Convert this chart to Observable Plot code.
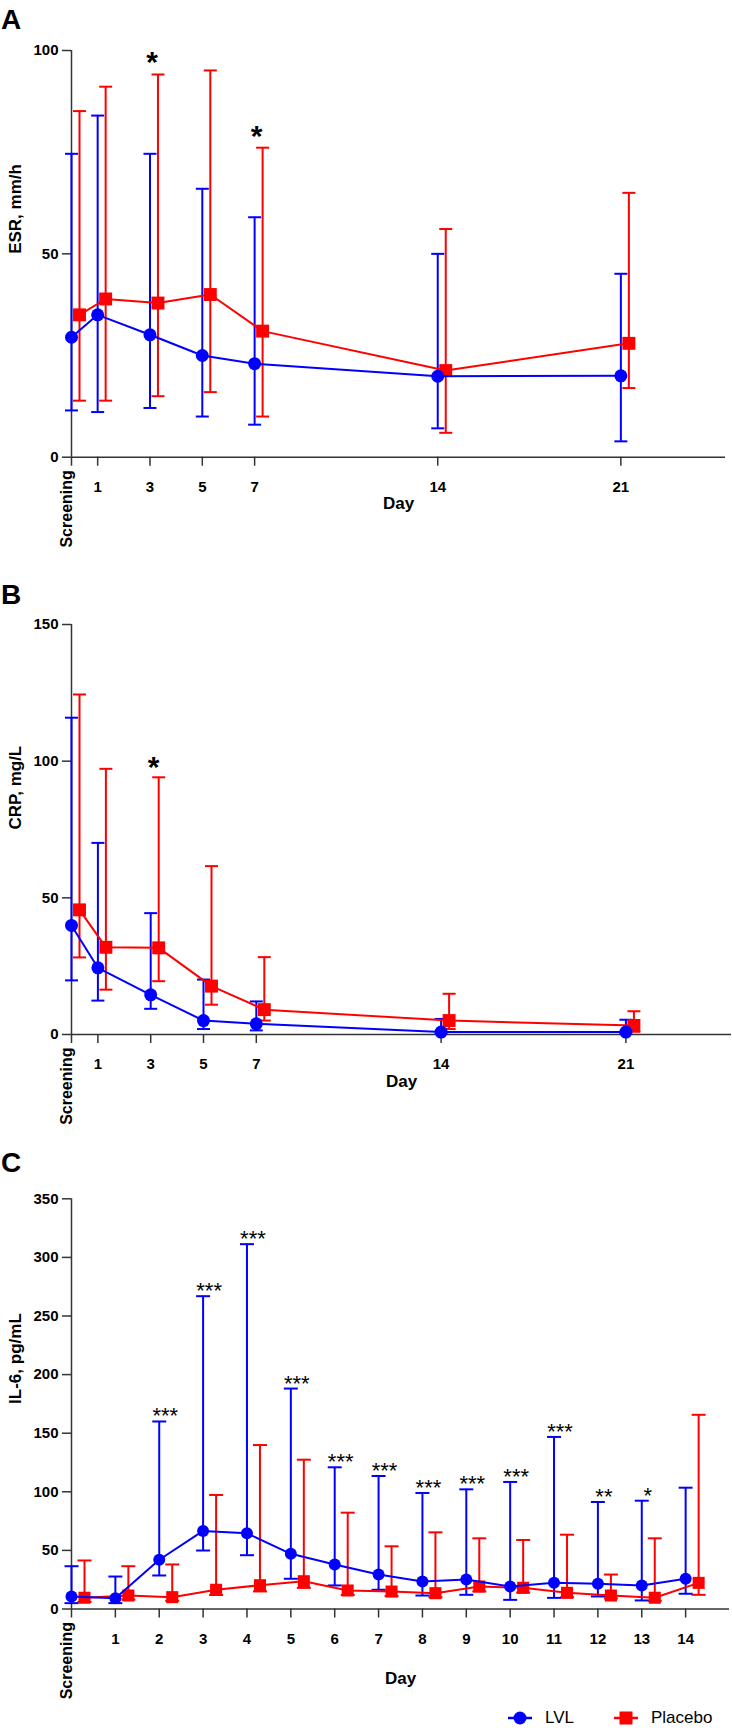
<!DOCTYPE html>
<html>
<head>
<meta charset="utf-8">
<script src="https://cdn.jsdelivr.net/npm/d3@7"></script>
<script src="https://cdn.jsdelivr.net/npm/@observablehq/plot@0.6"></script>
<style>
  html, body { margin: 0; padding: 0; background: #fff; }
  body { font-family: "Liberation Sans", Arial, sans-serif; }
  #root { position: relative; width: 732px; height: 1730px; overflow: hidden; }
  .panel { position: absolute; left: 0; }
  .letter { position: absolute; left: 1px; font-size: 28px; font-weight: bold; line-height: 1; color: #000; }
  .legend { position: absolute; top: 1706px; left: 0; width: 732px; height: 24px; font-size: 17px; color: #000; }
  .legend .item { position: absolute; top: 0; display: flex; align-items: center; height: 24px; }
  .legend svg { display: block; }
  .legend span { margin-left: 13px; }
</style>
</head>
<body>
<div id="root"></div>
<script>
// ---------- Data ----------
const groups = ["LVL", "Placebo"];

// Panel A: ESR
const daysAB = [0, 1, 3, 5, 7, 14, 21];
const dayLabelsAB = ["Screening", "1", "3", "5", "7", "14", "21"];
const esrLVL = [29.5, 35.0, 30.1, 25.0, 23.0, 19.9, 20.0];
const esrLVLLow = [11.5, 11.1, 12.1, 10.0, 8.0, 7.1, 3.9];
const esrLVLHigh = [74.6, 84.0, 74.6, 66.0, 59.0, 50.0, 45.1];
const esrPlacebo = [35.0, 38.9, 37.9, 40.0, 31.0, 21.3, 28.0];
const esrPlaceboLow = [13.9, 13.9, 15.0, 16.0, 10.0, 6.0, 17.0];
const esrPlaceboHigh = [85.1, 91.1, 94.1, 95.1, 76.1, 56.1, 65.0];
const esrSig = ["", "", "*", "", "*", "", ""];
const esrTicks = [0, 50, 100];

// Panel B: CRP
const crpLVL = [39.9, 24.4, 14.5, 5.1, 3.9, 0.9, 0.9];
const crpLVLLow = [19.8, 12.4, 9.4, 2.0, 1.5, 0.3, 0.3];
const crpLVLHigh = [115.9, 70.1, 44.4, 20.1, 12.1, 5.7, 5.4];
const crpPlacebo = [45.6, 31.9, 31.7, 17.7, 9.1, 5.1, 3.3];
const crpPlaceboLow = [28.2, 16.4, 19.5, 10.9, 5.1, 2.0, 1.0];
const crpPlaceboHigh = [124.4, 97.2, 94.1, 61.6, 28.3, 14.9, 8.5];
const crpSig = ["", "", "*", "", "", "", ""];
const crpTicks = [0, 50, 100, 150];

// Panel C: IL-6
const daysC = [0, 1, 2, 3, 4, 5, 6, 7, 8, 9, 10, 11, 12, 13, 14];
const dayLabelsC = ["Screening", "1", "2", "3", "4", "5", "6", "7", "8", "9", "10", "11", "12", "13", "14"];
const il6LVL = [10.7, 9.2, 42.0, 66.6, 64.6, 47.1, 38.0, 29.4, 23.5, 25.2, 19.2, 22.3, 21.5, 20.1, 25.8];
const il6LVLLow = [5, 5, 28.6, 49.9, 45.9, 25.8, 20.1, 16.4, 11.5, 12.1, 7.8, 9.5, 10.7, 7.3, 13.0];
const il6LVLHigh = [36.5, 27.7, 160, 266.9, 311.3, 188.1, 120.9, 113.5, 99.0, 102.1, 108.4, 146.8, 91.3, 92.4, 103.5];
const il6Placebo = [9.6, 11.5, 10.1, 16.4, 20.3, 23.7, 15.8, 14.9, 13.5, 19.2, 18.1, 13.8, 11.5, 9.6, 22.3];
const il6PlaceboLow = [6, 8, 7, 12, 15, 18, 12, 11, 10, 15, 14, 10, 9, 7, 12.1];
const il6PlaceboHigh = [41.4, 36.5, 38.0, 97.3, 139.9, 127.4, 82.2, 53.5, 65.4, 60.3, 58.9, 63.4, 29.4, 60.3, 165.7];
const il6Sig = ["", "", "***", "***", "***", "***", "***", "***", "***", "***", "***", "***", "**", "*", ""];
const il6Ticks = [0, 50, 100, 150, 200, 250, 300, 350];

// ---------- Drawing ----------
const COLORS = {LVL: "#0000ff", Placebo: "#ff0000"};
const AXIS = "#333333";
const FONT = "'Liberation Sans', Arial, sans-serif";

const capSymbol = {
  draw(ctx, size) {
    const w = Math.sqrt(size / Math.PI);
    ctx.moveTo(-w, 0);
    ctx.lineTo(w, 0);
  }
};

function makePanel(cfg) {
  const rows = (vals, lo, hi) => cfg.days.map((day, i) => ({day, v: vals[i], lo: lo[i], hi: hi[i]}));
  const lvlRows = rows(cfg.lvl, cfg.lvlLo, cfg.lvlHi);
  const plRows = rows(cfg.pl, cfg.plLo, cfg.plHi);
  const sigRows = cfg.days
    .map((day, i) => ({day, s: cfg.sig[i], top: Math.max(cfg.lvlHi[i], cfg.plHi[i])}))
    .filter(d => d.s);
  const labelOf = new Map(cfg.days.map((d, i) => [d, cfg.labels[i]]));

  const errMarks = (data, color, dx) => [
    Plot.ruleX(data, {x: "day", y1: "lo", y2: "hi", stroke: color, strokeWidth: 2, dx}),
    Plot.dot(data, {x: "day", y: "lo", symbol: capSymbol, r: cfg.capR, stroke: color, strokeWidth: 2, fill: "none", dx}),
    Plot.dot(data, {x: "day", y: "hi", symbol: capSymbol, r: cfg.capR, stroke: color, strokeWidth: 2, fill: "none", dx})
  ];

  return Plot.plot({
    width: 732,
    height: cfg.height,
    marginTop: cfg.marginTop,
    marginBottom: cfg.marginBottom,
    marginLeft: 71,
    marginRight: cfg.marginRight,
    x: {domain: cfg.xDomain},
    y: {domain: cfg.yDomain},
    style: {fontFamily: FONT, fontSize: "15px", fontWeight: "bold", color: "#000", background: "transparent", overflow: "visible"},
    marks: [
      Plot.axisY({ticks: cfg.yTicks, tickSize: 9, tickPadding: 4, label: null, stroke: AXIS, strokeWidth: 1.5}),
      Plot.axisX({ticks: cfg.days, tickFormat: d => d === cfg.days[0] ? "" : labelOf.get(d), tickSize: 9, tickPadding: 15, label: null, stroke: AXIS, strokeWidth: 1.5}),
      Plot.ruleX([cfg.xDomain[0]], {stroke: AXIS, strokeWidth: 1.5}),
      Plot.ruleY([cfg.yDomain[0]], {stroke: AXIS, strokeWidth: 1.5}),
      Plot.text([cfg.days[0]], {x: d => d, text: () => cfg.labels[0], frameAnchor: "bottom", rotate: -90, textAnchor: "end", dy: 13, fontSize: 16, fontWeight: "bold", fill: "#000"}),
      Plot.text([cfg.xLabel], {frameAnchor: "bottom", dy: cfg.xLabelDy, fontSize: 17, fontWeight: "bold", fill: "#000"}),
      Plot.text([cfg.yLabel], {frameAnchor: "left", rotate: -90, dx: -56, fontSize: 17, fontWeight: "bold", fill: "#000"}),
      ...errMarks(plRows, COLORS.Placebo, cfg.dxP),
      ...errMarks(lvlRows, COLORS.LVL, 0),
      Plot.line(plRows, {x: "day", y: "v", stroke: COLORS.Placebo, strokeWidth: 2, dx: cfg.dxP}),
      Plot.dot(plRows, {x: "day", y: "v", symbol: "square", r: cfg.squareR, fill: COLORS.Placebo, dx: cfg.dxP}),
      Plot.line(lvlRows, {x: "day", y: "v", stroke: COLORS.LVL, strokeWidth: 2}),
      Plot.dot(lvlRows, {x: "day", y: "v", r: cfg.circleR, fill: COLORS.LVL}),
      Plot.text(sigRows, {x: "day", y: "top", text: "s", lineAnchor: "bottom", dx: cfg.sigDx, dy: cfg.sigDy, fontSize: cfg.sigSize, fontWeight: cfg.sigWeight, fill: "#000"})
    ]
  });
}

const root = document.getElementById("root");

function place(node, top) {
  node.classList.add("panel");
  node.style.top = top + "px";
  root.appendChild(node);
}
function letter(txt, top) {
  const d = document.createElement("div");
  d.className = "letter";
  d.style.top = top + "px";
  d.textContent = txt;
  root.appendChild(d);
}

place(makePanel({
  days: daysAB, labels: dayLabelsAB,
  lvl: esrLVL, lvlLo: esrLVLLow, lvlHi: esrLVLHigh,
  pl: esrPlacebo, plLo: esrPlaceboLow, plHi: esrPlaceboHigh,
  sig: esrSig, yTicks: esrTicks, yDomain: [0, 100], xDomain: [0, 25],
  yLabel: "ESR, mm/h", xLabel: "Day",
  height: 570, marginTop: 50, marginBottom: 113.3, marginRight: 7,
  dxP: 8, capR: 6.5, squareR: 7.3, circleR: 6.5,
  sigDx: 2, sigDy: -2, sigSize: 30, sigWeight: "bold", xLabelDy: 52
}), 0);

place(makePanel({
  days: daysAB, labels: dayLabelsAB,
  lvl: crpLVL, lvlLo: crpLVLLow, lvlHi: crpLVLHigh,
  pl: crpPlacebo, plLo: crpPlaceboLow, plHi: crpPlaceboHigh,
  sig: crpSig, yTicks: crpTicks, yDomain: [0, 150], xDomain: [0, 25],
  yLabel: "CRP, mg/L", xLabel: "Day",
  height: 570, marginTop: 54, marginBottom: 106, marginRight: 1,
  dxP: 8, capR: 6.5, squareR: 7.3, circleR: 6.5,
  sigDx: 3, sigDy: 0, sigSize: 30, sigWeight: "bold", xLabelDy: 52.7
}), 570);

place(makePanel({
  days: daysC, labels: dayLabelsC,
  lvl: il6LVL, lvlLo: il6LVLLow, lvlHi: il6LVLHigh,
  pl: il6Placebo, plLo: il6PlaceboLow, plHi: il6PlaceboHigh,
  sig: il6Sig, yTicks: il6Ticks, yDomain: [0, 350], xDomain: [0, 15],
  yLabel: "IL-6, pg/mL", xLabel: "Day",
  height: 590, marginTop: 58.3, marginBottom: 121.5, marginRight: 3,
  dxP: 13, capR: 7, squareR: 6.8, circleR: 6,
  sigDx: 6, sigDy: 2, sigSize: 22, sigWeight: "normal", xLabelDy: 75
}), 1140);

letter("A", 6);
letter("B", 581);
letter("C", 1149);

// Legend
const legend = document.createElement("div");
legend.className = "legend";
const legendPos = {LVL: 508, Placebo: 614};
groups.forEach(g => {
  const item = document.createElement("div");
  item.className = "item";
  item.style.left = legendPos[g] + "px";
  const sym = g === "LVL"
    ? `<circle cx="12" cy="12" r="6.5" fill="${COLORS[g]}"/>`
    : `<rect x="5.5" y="5.5" width="13" height="13" fill="${COLORS[g]}"/>`;
  item.innerHTML = `<svg width="24" height="24"><line x1="0" x2="24" y1="12" y2="12" stroke="${COLORS[g]}" stroke-width="2.5"/>${sym}</svg><span>${g}</span>`;
  legend.appendChild(item);
});
root.appendChild(legend);
</script>
</body>
</html>
